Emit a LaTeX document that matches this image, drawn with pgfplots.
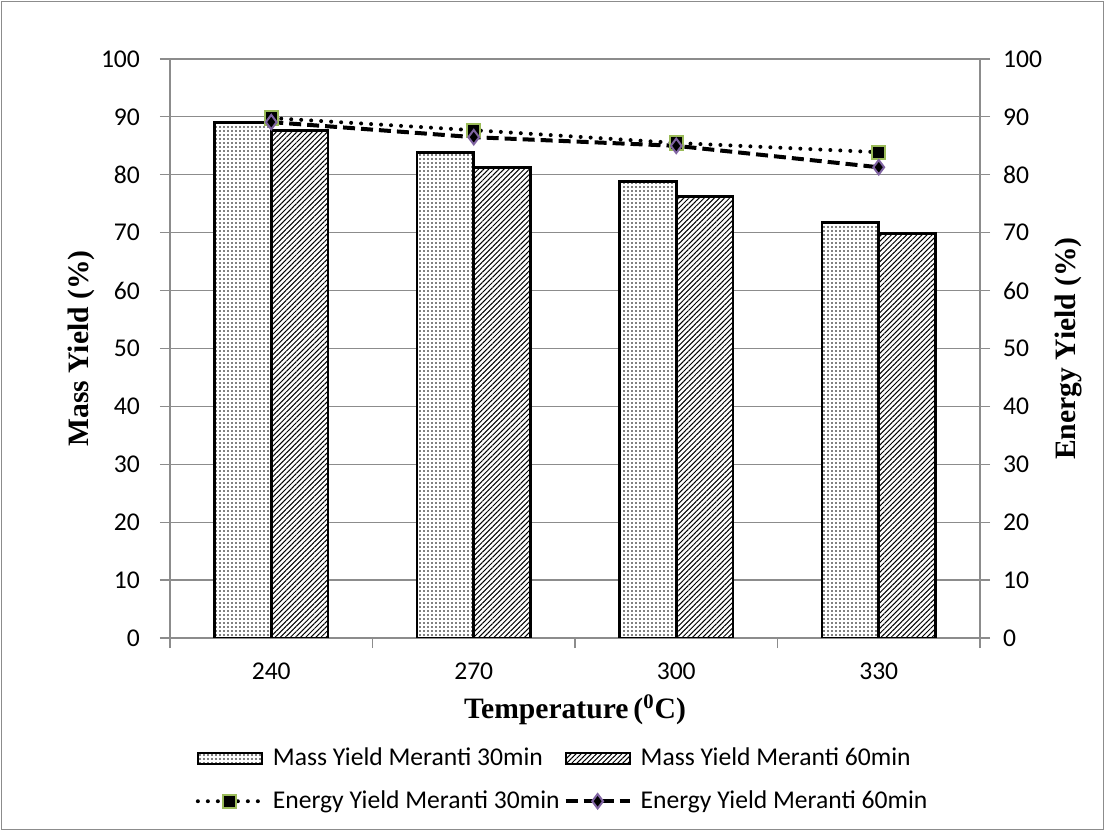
\documentclass[border=0pt]{standalone}
\usepackage{fontspec}
\setmainfont{Carlito}
\newfontfamily\tnr{Liberation Serif}
\usepackage{pgfplots}
\pgfplotsset{compat=1.18}
\usetikzlibrary{patterns.meta}
\definecolor{gridgray}{HTML}{8C8C8C}
\definecolor{exgreen}{HTML}{9BBB59}
\definecolor{expurple}{HTML}{8064A2}
\pgfplotsset{
  common/.style={
    at={(85pt,96.5pt)}, anchor=south west, scale only axis,
    width=405pt, height=289.5pt,
    xmin=0, xmax=4, ymin=0, ymax=100, ytick={0,10,...,100},
    tick align=outside, major tick length=5pt,
    tick style={gridgray, line width=0.6pt},
    axis line style={gridgray, line width=0.6pt},
    /pgf/number format/assume math mode=true,
    tick label style={font=\fontsize{12.8}{15}\selectfont},
    label style={font=\tnr\bfseries\fontsize{14.8}{17}\selectfont},
  },
  barleg/.style={legend image code/.code={\draw[##1, line width=1.1pt] (0pt,-2.8pt) rectangle (32pt,2.8pt); \path (34.5pt,0pt);}},
  lineleg/.style={legend image code/.code={\draw[##1, mark repeat=2, mark phase=2] plot coordinates {(0pt,0pt)(16pt,0pt)(32pt,0pt)}; \path (34.5pt,0pt);}},
}
\begin{document}
\begin{tikzpicture}
\useasboundingbox (0,0) rectangle (552.5pt,415.5pt);
\draw[gridgray, line width=0.6pt] (0.6pt,0.6pt) rectangle (551.9pt,414.9pt);
\begin{axis}[common,
  ymajorgrids, grid style={gridgray, line width=0.6pt},
  ytick pos=left, xtick pos=bottom,
  xtick={0,1,2,3,4}, xticklabels={},
  extra x ticks={0.5,1.5,2.5,3.5},
  extra x tick labels={240,270,300,330},
  extra x tick style={major tick length=0pt, xticklabel style={yshift=-9pt}},
  yticklabel style={xshift=-6.5pt},
  xlabel={Temperature\,(\textsuperscript{0}C)},
  ylabel={Mass Yield (\%)},
  xlabel style={at={(axis description cs:0.5,-0.124)}, anchor=center},
  ylabel style={at={(axis description cs:-0.110,0.5)}, anchor=center},
  legend columns=2,
  legend style={draw=none, fill=none, at={(0.486,-0.245)}, anchor=center,
    font=\fontsize{12.8}{15}\selectfont,
    /tikz/every even column/.append style={column sep=0pt},
    row sep=7pt, cells={anchor=west}},
]
\addplot[ybar, bar width=0.28, bar shift=-0.14, draw=black, line width=1.4pt, fill=white,
  postaction={pattern={Dots[radius=0.4pt,distance=2pt]}}, barleg]
  coordinates {(0.5,89.1)(1.5,83.8)(2.5,78.9)(3.5,71.8)};
\addlegendentry{Mass Yield Meranti 30min}
\addplot[ybar, bar width=0.28, bar shift=0.14, draw=black, line width=1.4pt, fill=white,
  postaction={pattern={Lines[angle=45,distance=1.8pt,line width=0.5pt]}}, barleg]
  coordinates {(0.5,87.7)(1.5,81.3)(2.5,76.3)(3.5,69.9)};
\addlegendentry{Mass Yield Meranti 60min}
\addplot[black, line width=2pt, dash pattern=on 0pt off 5pt, line cap=round,
  mark=square*, mark size=3.3pt,
  mark options={solid, fill=black, draw=exgreen, line width=1pt, line cap=butt}, lineleg]
  coordinates {(0.5,89.8)(1.5,87.7)(2.5,85.5)(3.5,83.9)};
\addlegendentry{Energy Yield Meranti 30min}
\addplot[black, line width=2pt, dash pattern=on 6pt off 3pt,
  mark=diamond*, mark size=3.6pt,
  mark options={solid, fill=black, draw=expurple, line width=1pt}, lineleg]
  coordinates {(0.5,89.1)(1.5,86.5)(2.5,85.0)(3.5,81.3)};
\addlegendentry{Energy Yield Meranti 60min}
\end{axis}
\begin{axis}[common,
  axis x line=none, axis y line*=right,
  yticklabel style={xshift=3pt},
  ylabel={Energy Yield (\%)},
  ylabel style={at={(axis description cs:1.109,0.5)}, anchor=center, rotate=0},
]
\end{axis}
\end{tikzpicture}
\end{document}
